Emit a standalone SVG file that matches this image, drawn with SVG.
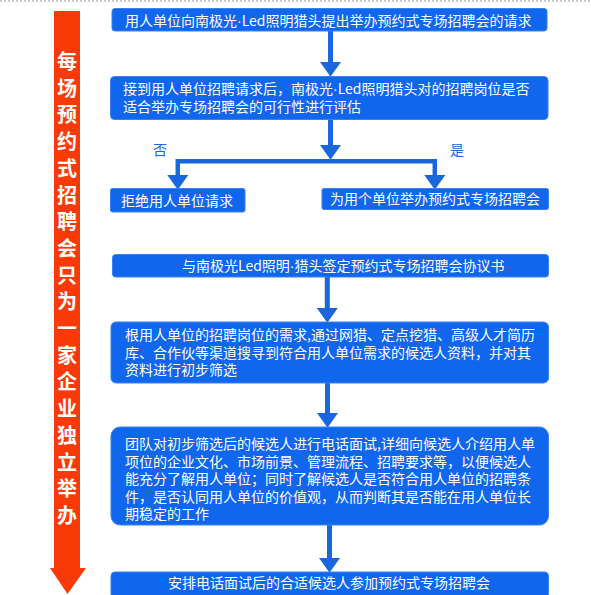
<svg xmlns="http://www.w3.org/2000/svg" width="591" height="595" viewBox="0 0 591 595">
<style>
.box{fill:#1166ee;stroke:#3a82ee;stroke-width:1}
.t{font-family:"Noto Sans CJK SC","Noto Sans",sans-serif;font-size:14px;fill:#ffffff}
.d{font-family:"Liberation Sans",sans-serif}
.lbl{font-family:"Noto Sans CJK SC","Noto Sans",sans-serif;font-size:14px;fill:#1a66d8}
.side{font-family:"Noto Sans CJK SC","Noto Sans",sans-serif;font-size:20px;font-weight:bold;fill:#ffffff}
.c{fill:none;stroke:#1a66dd;stroke-width:5}
</style>
<defs>
<marker id="ah" markerUnits="userSpaceOnUse" markerWidth="15" markerHeight="21" refX="0" refY="10" orient="auto-start-reverse" viewBox="0 0 14 20">
<path d="M0,0 L14,10 L0,20 z" fill="#1a66dd"/>
</marker>
</defs>
<rect width="591" height="595" fill="#ffffff"/>
<line x1="0" y1="1" x2="591" y2="1" stroke="#999999" stroke-width="1" stroke-dasharray="2,2"/>

<g id="side-arrow">
<polygon points="54,11 80,11 80,568 86,568 67.5,594 50,568 54,568" fill="#fa3a06"/>
<text class="side" text-anchor="middle">
<tspan x="67" y="69">每</tspan><tspan x="67" y="95.7">场</tspan><tspan x="67" y="122.4">预</tspan><tspan x="67" y="149.1">约</tspan><tspan x="67" y="175.8">式</tspan><tspan x="67" y="202.5">招</tspan><tspan x="67" y="229.2">聘</tspan><tspan x="67" y="255.9">会</tspan><tspan x="67" y="282.6">只</tspan><tspan x="67" y="309.3">为</tspan><tspan x="67" y="336">一</tspan><tspan x="67" y="362.7">家</tspan><tspan x="67" y="389.4">企</tspan><tspan x="67" y="416.1">业</tspan><tspan x="67" y="442.8">独</tspan><tspan x="67" y="469.5">立</tspan><tspan x="67" y="496.2">举</tspan><tspan x="67" y="522.9">办</tspan>
</text>
</g>

<g id="connectors">
<line class="c" x1="330.5" y1="31" x2="330.5" y2="62" marker-end="url(#ah)"/>
<line class="c" x1="330.5" y1="119" x2="330.5" y2="145" marker-end="url(#ah)"/>
<path class="c" style="stroke-width:4.5" d="M177.8,175 L177.8,161.3 L434.8,161.3 L434.8,175" marker-start="url(#ah)" marker-end="url(#ah)"/>
<line class="c" x1="327.3" y1="277" x2="327.3" y2="308" marker-end="url(#ah)"/>
<line class="c" x1="327.5" y1="383" x2="327.5" y2="413" marker-end="url(#ah)"/>
<line class="c" x1="329.5" y1="525" x2="329.5" y2="558" marker-end="url(#ah)"/>
<text class="lbl" x="160" y="155" text-anchor="middle">否</text>
<text class="lbl" x="457" y="155" text-anchor="middle">是</text>
</g>

<g id="n1">
<rect class="box" x="112" y="8.5" width="435" height="22.5" rx="3"/>
<text class="t" x="125" y="26">用人单位向南极光<tspan class="d">·</tspan>Led照明猎头提出举办预约式专场招聘会的请求</text>
</g>
<g id="n2">
<rect class="box" x="110.5" y="76.5" width="437.5" height="43" rx="4"/>
<text class="t"><tspan x="123" y="94.3">接到用人单位招聘请求后，南极光<tspan class="d">·</tspan>Led照明猎头对的招聘岗位是否</tspan><tspan x="123" y="111.8">适合举办专场招聘会的可行性进行评估</tspan></text>
</g>
<g id="n3">
<rect class="box" x="110.5" y="188.5" width="134.5" height="23.5" rx="2"/>
<text class="t" x="121" y="206">拒绝用人单位请求</text>
</g>
<g id="n4">
<rect class="box" x="322" y="188.5" width="226.5" height="21" rx="2"/>
<text class="t" x="330" y="204">为用个单位举办预约式专场招聘会</text>
</g>
<g id="n5">
<rect class="box" x="112.5" y="254.5" width="436" height="22.5" rx="3"/>
<text class="t" x="182" y="271">与南极光Led照明<tspan class="d">·</tspan>猎头签定预约式专场招聘会协议书</text>
</g>
<g id="n6">
<rect class="box" x="111" y="322" width="437.5" height="61" rx="5"/>
<text class="t"><tspan x="125" y="340.3">根用人单位的招聘岗位的需求,通过网猎、定点挖猎、高级人才简历</tspan><tspan x="125" y="357.5">库、合作伙等渠道搜寻到符合用人单位需求的候选人资料，并对其</tspan><tspan x="125" y="374.5">资料进行初步筛选</tspan></text>
</g>
<g id="n7">
<rect class="box" x="111" y="427" width="437.5" height="98" rx="9"/>
<text class="t"><tspan x="125" y="449.3">团队对初步筛选后的候选人进行电话面试,详细向候选人介绍用人单</tspan><tspan x="125" y="466.8">项位的企业文化、市场前景、管理流程、招聘要求等，以便候选人</tspan><tspan x="125" y="484.3">能充分了解用人单位；同时了解候选人是否符合用人单位的招聘条</tspan><tspan x="125" y="501.8">件，是否认同用人单位的价值观，从而判断其是否能在用人单位长</tspan><tspan x="125" y="519.3">期稳定的工作</tspan></text>
</g>
<g id="n8">
<rect class="box" x="111" y="572" width="437.5" height="26" rx="4"/>
<text class="t" x="168" y="587.5">安排电话面试后的合适候选人参加预约式专场招聘会</text>
</g>
</svg>
